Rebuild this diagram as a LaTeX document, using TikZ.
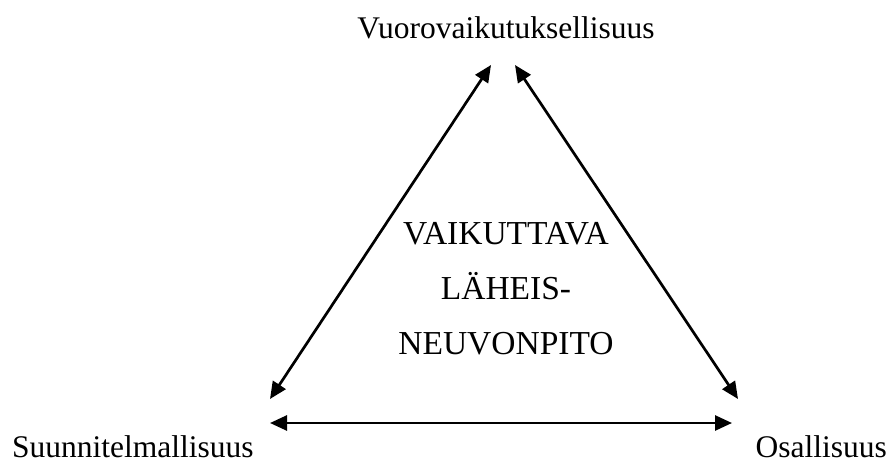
\documentclass[tikz,border=0pt]{standalone}
\usepackage{fontspec}
\setmainfont{Liberation Serif}
\usetikzlibrary{arrows.meta}
\definecolor{figdark}{gray}{0.0}
\tikzset{
  corner/.style={inner sep=0pt, font=\fontsize{31.5}{38}\selectfont},
  centre/.style={inner sep=0pt, align=center, font=\fontsize{33.5}{55}\selectfont},
  arrow/.style={{Triangle[length=17pt, width=15pt]}-{Triangle[length=17pt, width=15pt]},
    line width=2.7pt, draw=figdark}
}

\begin{document}
\begin{tikzpicture}[x=1pt, y=-1pt]
  \useasboundingbox (0,0) rectangle (891,465);

  \node[corner, anchor=base] (top) at (506,39) {Vuorovaikutuksellisuus};
  \node[corner, anchor=base west] (left) at (12,457) {Suunnitelmallisuus};
  \node[corner, anchor=base east] (right) at (887,457) {Osallisuus};
  \node[centre] (mid) at (506,289) {VAIKUTTAVA\\ LÄHEIS-\\ NEUVONPITO};

  % arrow ends
  \coordinate (tl) at (491,65);
  \coordinate (tr) at (515,65);
  \coordinate (bl) at (270,399);
  \coordinate (br) at (738,399);
  \coordinate (hl) at (270,423);
  \coordinate (hr) at (732,423);

  \draw[arrow] (bl) -- (tl);
  \draw[arrow] (tr) -- (br);
  \draw[arrow] (hl) -- (hr);
\end{tikzpicture}
\end{document}
